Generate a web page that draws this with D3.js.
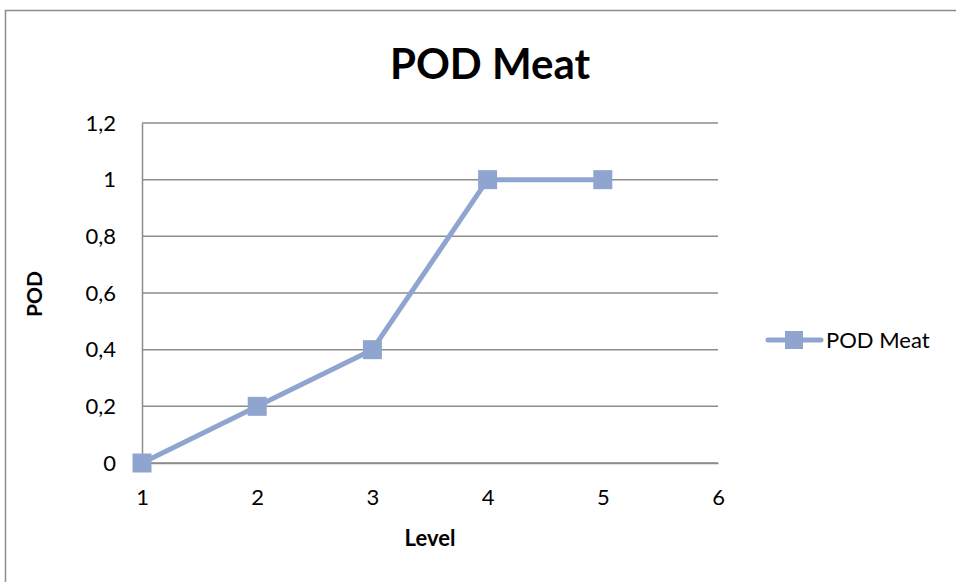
<!DOCTYPE html>
<html><head><meta charset="utf-8">
<script src="https://cdn.jsdelivr.net/npm/d3@7"></script>
<style>html,body{margin:0;padding:0;background:#fff;}svg{display:block;font-family:Lato,"Open Sans",sans-serif;}</style>
</head><body>
<svg id="c" width="956" height="582"></svg>
<script>
const levels = [1, 2, 3, 4, 5];
const podMeat = [0, 0.2, 0.4, 1, 1];
const xTicks = [1, 2, 3, 4, 5, 6];
const yTicks = [0, 0.2, 0.4, 0.6, 0.8, 1, 1.2];
const seriesName = "POD Meat";
const titleText = "POD Meat";
const xTitle = "Level";
const yTitle = "POD";

const svg = d3.select("#c");
const col = "#8FA5CF";
const grid = "#8c8c8c";

svg.append("rect").attr("x", 5.5).attr("y", 10.5).attr("width", 960).attr("height", 600)
  .attr("fill", "#fff").attr("stroke", "#8c8c8c").attr("stroke-width", 1.5);

const x = d3.scaleLinear().domain([1, 6]).range([142, 718]);
const y = d3.scaleLinear().domain([0, 1.2]).range([463, 123]);
const fmt = v => String(+v.toFixed(1)).replace(".", ",");

// gridlines
svg.append("g").selectAll("line").data(yTicks).join("line")
  .attr("x1", x(1)).attr("x2", x(6)).attr("y1", d => y(d)).attr("y2", d => y(d))
  .attr("stroke", grid).attr("stroke-width", 1.5);

// y axis
const ya = svg.append("g").attr("transform", `translate(${x(1)},0)`)
  .call(d3.axisLeft(y).tickValues(yTicks).tickFormat(fmt).tickSize(0).tickPadding(26));
ya.select(".domain").attr("stroke", grid).attr("stroke-width", 1.5);
ya.selectAll("text").attr("font-size", 22).attr("fill", "#000").attr("font-family", "Lato, sans-serif");

// x axis
const xa = svg.append("g").attr("transform", `translate(0,${y(0)})`)
  .call(d3.axisBottom(x).tickValues(xTicks).tickFormat(d3.format("d")).tickSize(0).tickPadding(26));
xa.select(".domain").attr("stroke", grid).attr("stroke-width", 1.5);
xa.selectAll("text").attr("font-size", 22).attr("fill", "#000").attr("font-family", "Lato, sans-serif");

// line
const data = levels.map((l, i) => ({x: l, y: podMeat[i]}));
svg.append("path").datum(data)
  .attr("d", d3.line().x(d => x(d.x)).y(d => y(d.y)))
  .attr("fill", "none").attr("stroke", col).attr("stroke-width", 5).attr("stroke-linejoin", "round");
const ms = 19;
svg.append("g").selectAll("rect").data(data).join("rect")
  .attr("x", d => x(d.x) - ms / 2).attr("y", d => y(d.y) - ms / 2)
  .attr("width", ms).attr("height", ms).attr("fill", col);

// title
svg.append("text").attr("x", 490).attr("y", 79).attr("text-anchor", "middle")
  .attr("font-size", 42).attr("font-weight", "bold").text(titleText);

// axis titles
svg.append("text").attr("x", 430).attr("y", 546).attr("text-anchor", "middle")
  .attr("font-size", 22).attr("font-weight", "bold").text(xTitle);
svg.append("text").attr("transform", "translate(42,294) rotate(-90)").attr("text-anchor", "middle")
  .attr("font-size", 21).attr("font-weight", "bold").text(yTitle);

// legend
const lg = svg.append("g").attr("transform", "translate(0,340)");
lg.append("line").attr("x1", 768).attr("x2", 821).attr("y1", 0).attr("y2", 0)
  .attr("stroke", col).attr("stroke-width", 5).attr("stroke-linecap", "round");
lg.append("rect").attr("x", 785).attr("y", -9).attr("width", 18).attr("height", 18).attr("fill", col);
lg.append("text").attr("x", 826).attr("y", 8).attr("font-size", 22).text(seriesName);
</script>
</body></html>
